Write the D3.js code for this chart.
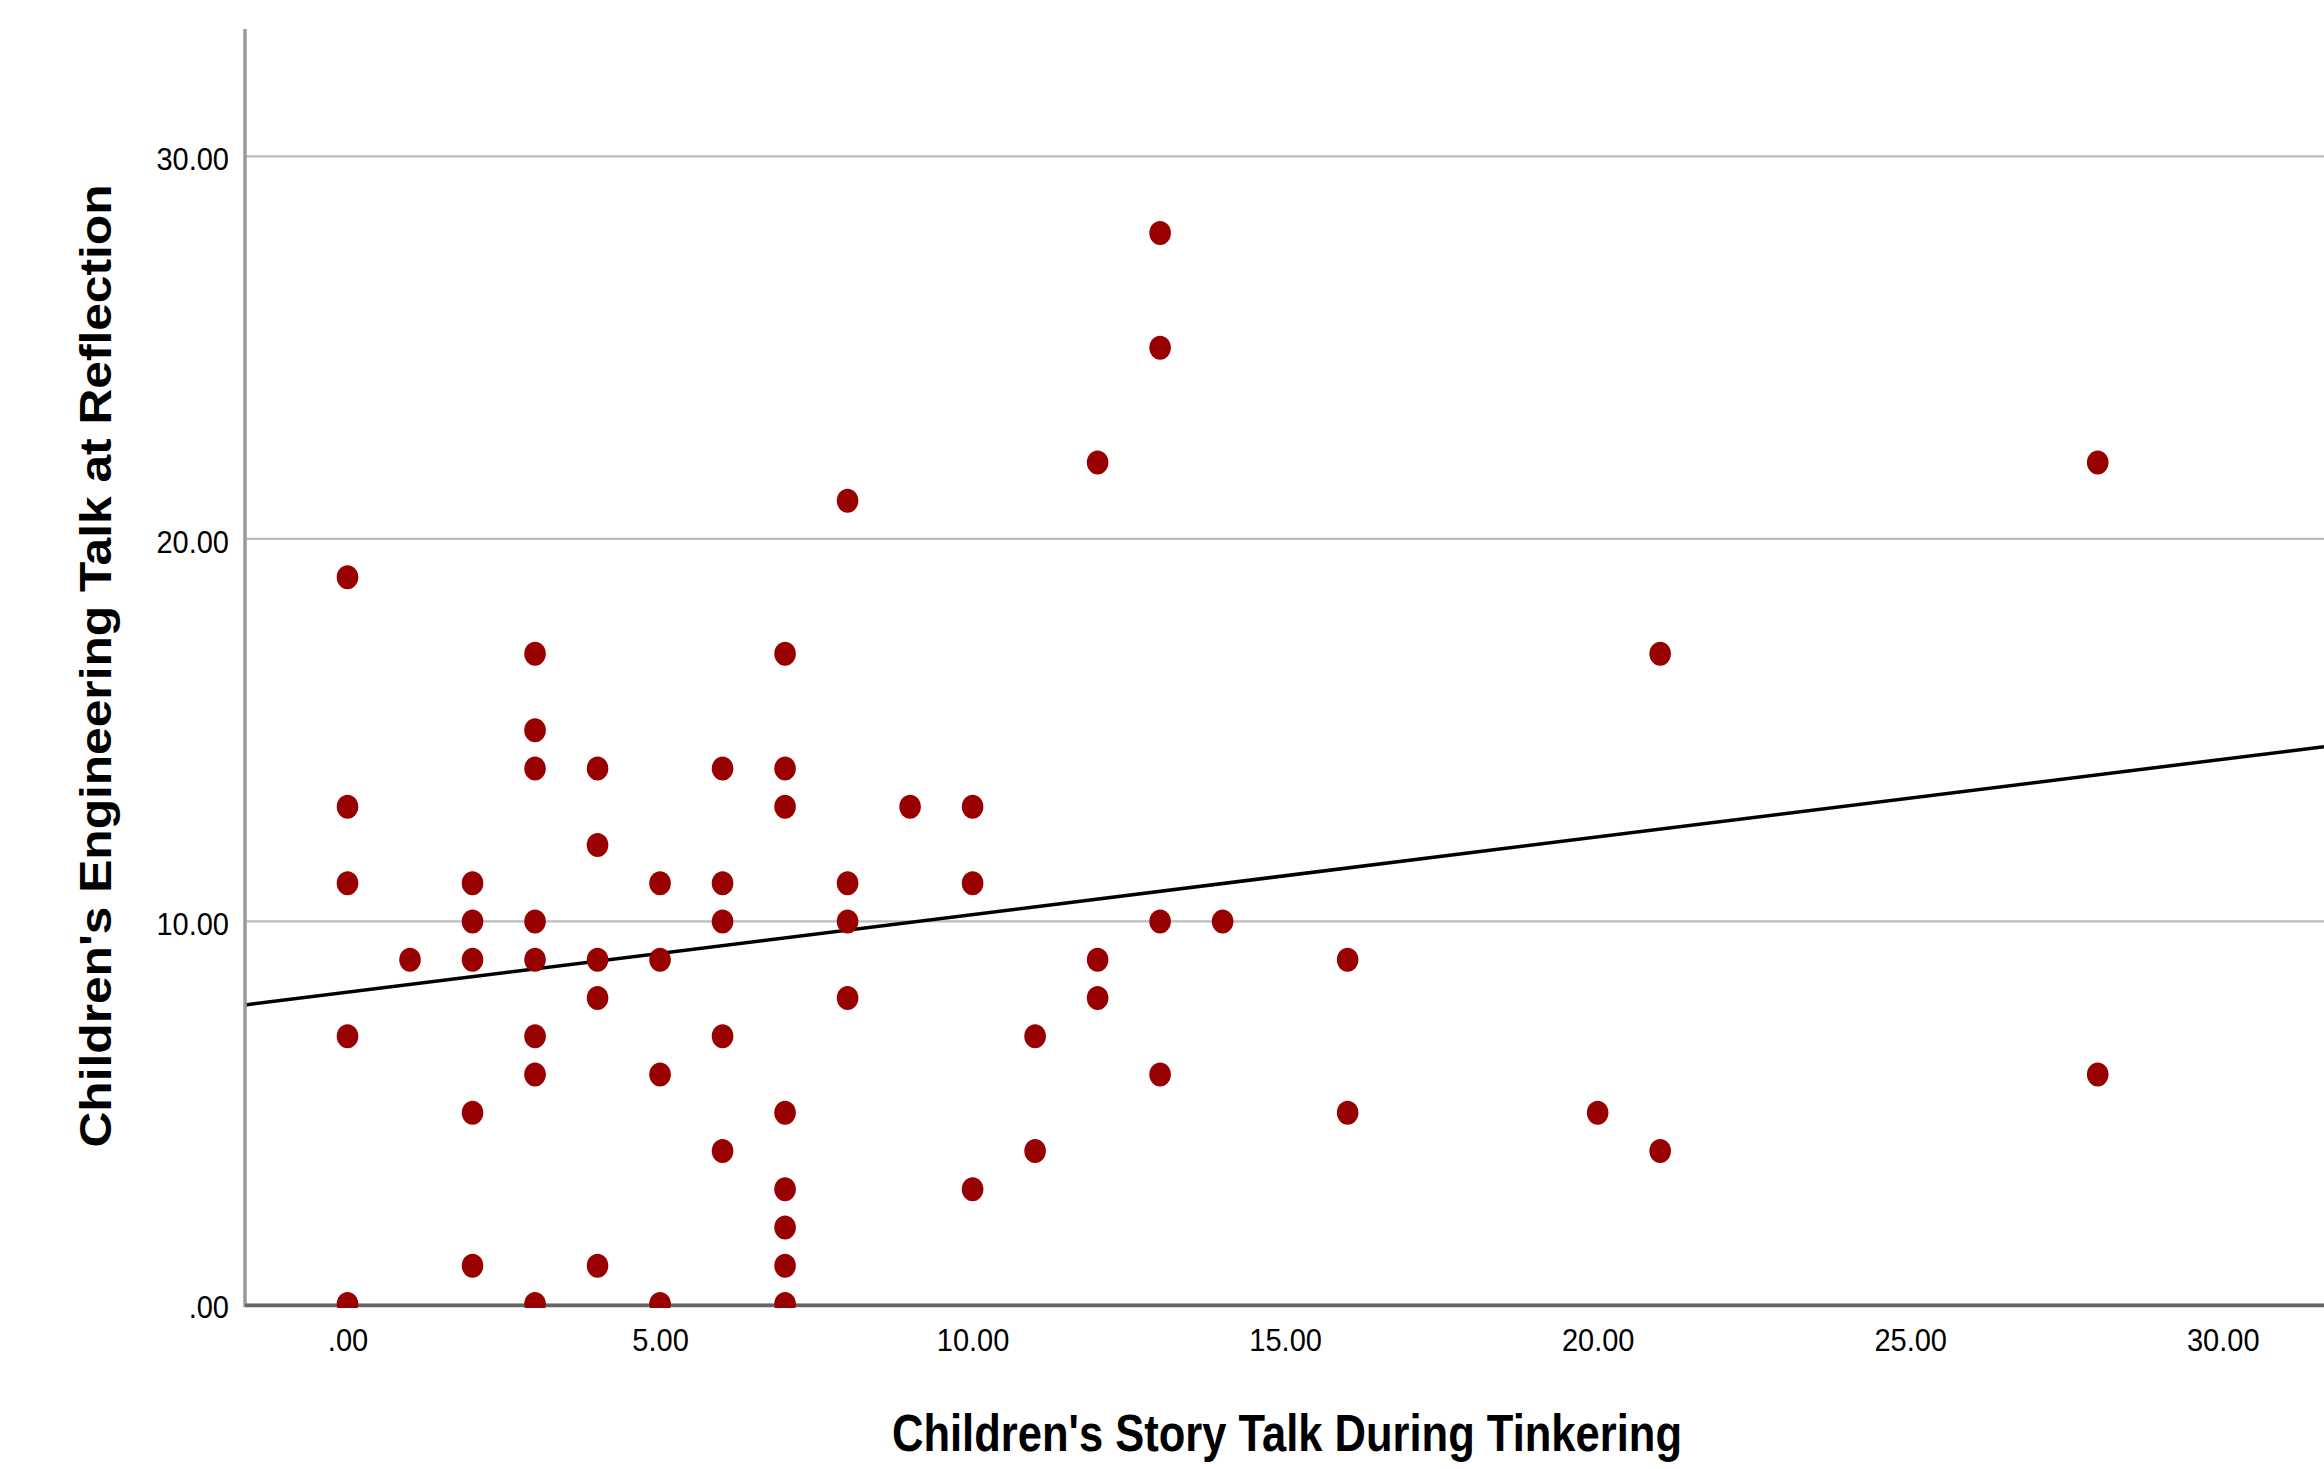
<!DOCTYPE html>
<html>
<head>
<meta charset="utf-8">
<script src="https://cdn.jsdelivr.net/npm/d3@7"></script>
<style>
  html, body { margin: 0; padding: 0; background: #ffffff; }
  svg { display: block; }
</style>
</head>
<body>
<svg id="chart" width="2324" height="1469"></svg>
<script>
// ---- Data ----
const storyTalk = [
  0,0,0,0,0,
  1,
  2,2,2,2,2,
  3,3,3,3,3,3,3,3,
  4,4,4,4,4,
  5,5,5,5,
  6,6,6,6,6,
  7,7,7,7,7,7,7,7,
  8,8,8,8,
  9,
  10,10,10,
  11,11,
  12,12,12,
  13,13,13,13,
  14,
  16,16,
  20,
  21,21,
  28,28
];
const engineeringTalk = [
  19,13,11,7,0,
  9,
  11,10,9,5,1,
  17,15,14,10,9,7,6,0,
  14,12,9,8,1,
  11,9,6,0,
  14,11,10,7,4,
  17,14,13,5,3,2,1,0,
  21,11,10,8,
  13,
  13,11,3,
  7,4,
  22,9,8,
  28,25,10,6,
  10,
  9,5,
  5,
  17,4,
  22,6
];
// Fit line (as drawn in the reference)
const fitIntercept = 8.15;
const fitSlope = 0.203;

const xTicks = [0, 5, 10, 15, 20, 25, 30];
const xTickLabels = [".00", "5.00", "10.00", "15.00", "20.00", "25.00", "30.00"];
const yTicks = [0, 10, 20, 30];
const yTickLabels = [".00", "10.00", "20.00", "30.00"];
const xDomain = [-1.64, 31.62];
const yDomain = [0, 33.33];

const xTitle = "Children's Story Talk During Tinkering";
const yTitle = "Children's Engineering Talk at Reflection";

// ---- Layout ----
const plotLeft = 245, plotRight = 2324, plotTop = 29, plotBottom = 1304;

const svg = d3.select("#chart");
const x = d3.scaleLinear().domain(xDomain).range([plotLeft, plotRight]);
const y = d3.scaleLinear().domain(yDomain).range([plotBottom, plotTop]);

svg.append("defs").append("clipPath").attr("id", "plotclip")
  .append("rect").attr("x", plotLeft).attr("y", plotTop)
  .attr("width", plotRight - plotLeft).attr("height", plotBottom - plotTop + 4);

// gridlines
svg.append("g").selectAll("line").data(yTicks).join("line")
  .attr("x1", plotLeft).attr("x2", plotRight)
  .attr("y1", d => y(d)).attr("y2", d => y(d))
  .attr("stroke", "#bcbcbc").attr("stroke-width", 2.2);

// fit line
svg.append("g").attr("clip-path", "url(#plotclip)").append("line")
  .attr("x1", x(xDomain[0])).attr("y1", y(fitIntercept + fitSlope * xDomain[0]))
  .attr("x2", x(xDomain[1])).attr("y2", y(fitIntercept + fitSlope * xDomain[1]))
  .attr("stroke", "#000").attr("stroke-width", 3.5);

// axes lines
svg.append("line").attr("x1", plotLeft).attr("x2", plotLeft).attr("y1", plotTop).attr("y2", plotBottom + 3)
  .attr("stroke", "#9a9a9a").attr("stroke-width", 3.5);
svg.append("line").attr("x1", plotLeft).attr("x2", plotRight).attr("y1", plotBottom + 1.5).attr("y2", plotBottom + 1.5)
  .attr("stroke", "#666666").attr("stroke-width", 3.5);

// points
const pts = storyTalk.map((v, i) => ({ x: v, y: engineeringTalk[i] }));
svg.append("g").attr("clip-path", "url(#plotclip)").selectAll("ellipse").data(pts).join("ellipse")
  .attr("cx", d => x(d.x)).attr("cy", d => y(d.y))
  .attr("rx", 10.8).attr("ry", 12)
  .attr("fill", "#990000");

// narrow-tall tick label look: measure at base size, then enlarge keeping width
function narrowLabels(sel) {
  sel.attr("font-family", "'Liberation Sans', Arial, sans-serif")
    .attr("font-size", 29).attr("fill", "#000");
  sel.each(function () {
    const w = this.getComputedTextLength();
    d3.select(this).attr("font-size", 32)
      .attr("textLength", w).attr("lengthAdjust", "spacingAndGlyphs");
  });
}

// axes ticks/labels via d3 axes
const xAxis = d3.axisBottom(x).tickValues(xTicks)
  .tickFormat((d, i) => xTickLabels[i]).tickSize(0).tickPadding(24);
const gx = svg.append("g").attr("transform", `translate(0,${plotBottom})`).call(xAxis);
gx.select(".domain").remove();
narrowLabels(gx.selectAll("text"));

const yAxis = d3.axisLeft(y).tickValues(yTicks)
  .tickFormat((d, i) => yTickLabels[i]).tickSize(0).tickPadding(16);
const gy = svg.append("g").attr("transform", `translate(${plotLeft},0)`).call(yAxis);
gy.select(".domain").remove();
narrowLabels(gy.selectAll("text"));
gy.selectAll("text").attr("dy", "0.42em");

// titles
svg.append("text")
  .attr("x", 1287).attr("y", 1451)
  .attr("text-anchor", "middle")
  .attr("font-family", "'Liberation Sans', Arial, sans-serif")
  .attr("font-weight", "bold").attr("font-size", 52)
  .attr("textLength", 790).attr("lengthAdjust", "spacingAndGlyphs")
  .attr("fill", "#000")
  .text(xTitle);

svg.append("text")
  .attr("transform", "translate(111,666) rotate(-90)")
  .attr("text-anchor", "middle")
  .attr("font-family", "'Liberation Sans', Arial, sans-serif")
  .attr("font-weight", "bold").attr("font-size", 44)
  .attr("textLength", 963).attr("lengthAdjust", "spacingAndGlyphs")
  .attr("fill", "#000")
  .text(yTitle);
</script>
</body>
</html>
